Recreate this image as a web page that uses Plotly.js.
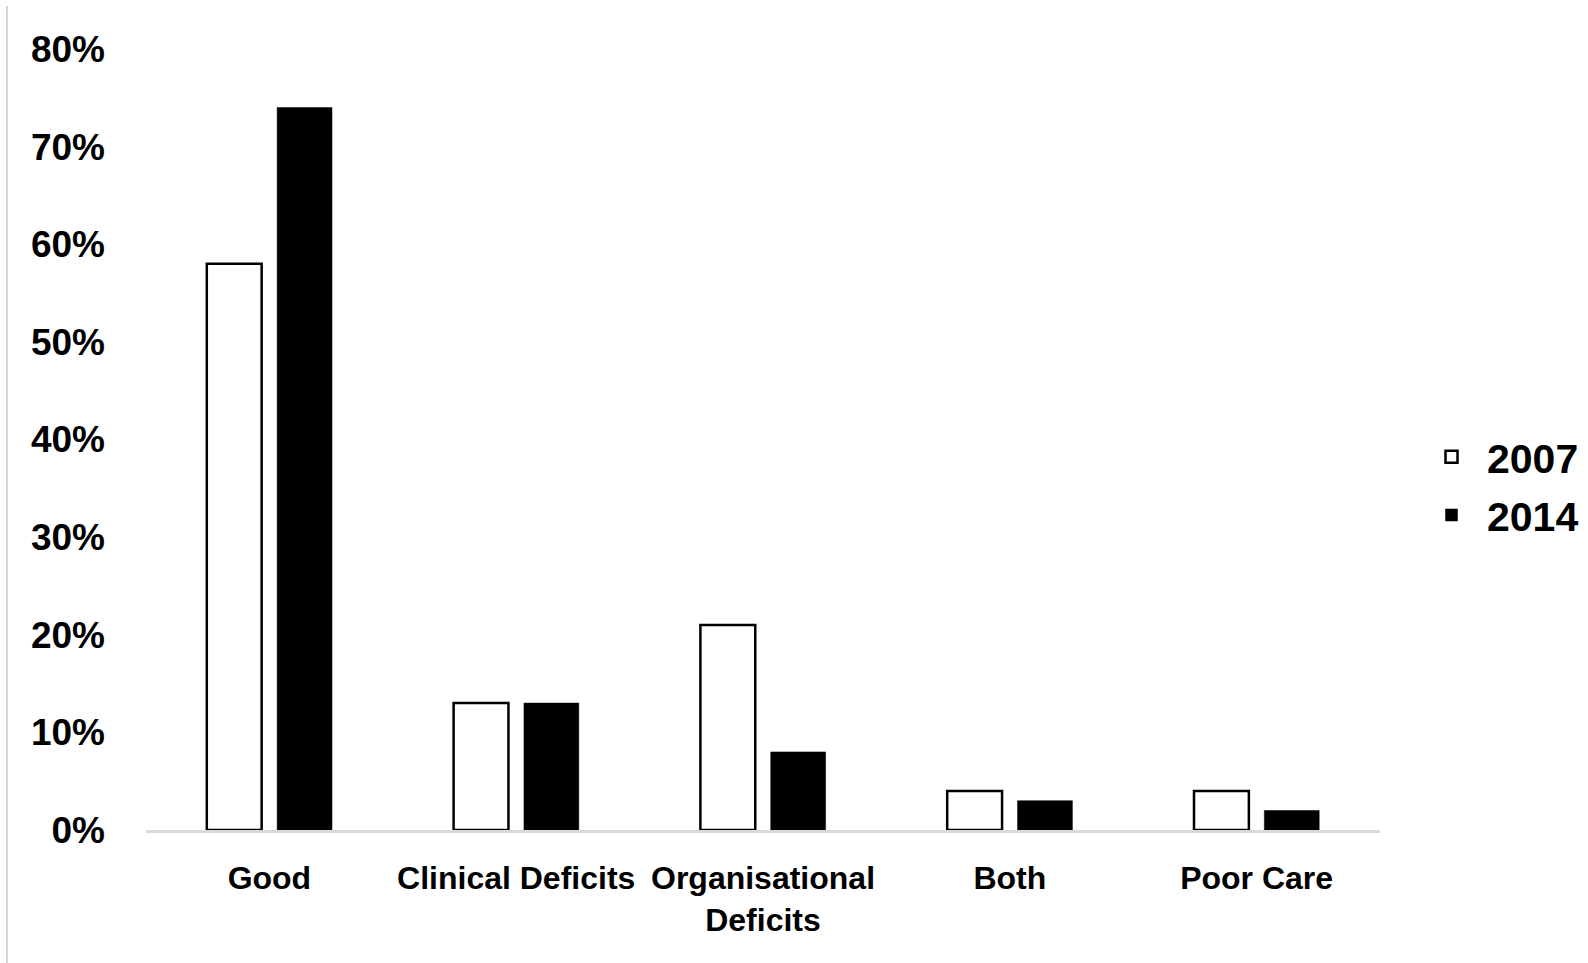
<!DOCTYPE html>
<html>
<head>
<meta charset="utf-8">
<script src="https://cdn.plot.ly/plotly-3.0.1.min.js"></script>
<style>html,body{margin:0;padding:0;background:#fff;}#chart{width:1588px;height:963px;}</style>
</head>
<body>
<div id="chart"></div>
<script>
const categories = ["Good", "Clinical Deficits", "Organisational<br>Deficits", "Both", "Poor Care"];
const series2007 = [0.58, 0.13, 0.21, 0.04, 0.04];
const series2014 = [0.74, 0.13, 0.08, 0.03, 0.02];
const seriesNames = ["2007", "2014"];
const yTickVals = [0, 0.1, 0.2, 0.3, 0.4, 0.5, 0.6, 0.7, 0.8];

const FONT = "Liberation Sans, Arial, sans-serif";

const traces = [
  {
    type: "bar", name: seriesNames[0], x: categories, y: series2007,
    marker: {color: "#ffffff", line: {color: "#000000", width: 2.5}},
    legendgroup: "a", hoverinfo: "skip"
  },
  {
    type: "bar", name: seriesNames[1], x: categories, y: series2014,
    marker: {color: "#000000", line: {color: "#000000", width: 0.5}},
    legendgroup: "b", hoverinfo: "skip"
  }
];

const W = 1588, H = 963;
const ml = 146, mr = 208, mt = 49, mb = 133;
const pw = W - ml - mr, ph = H - mt - mb;

const layout = {
  width: W, height: H,
  margin: {l: ml, r: mr, t: mt, b: mb, pad: 0},
  paper_bgcolor: "#ffffff", plot_bgcolor: "#ffffff",
  font: {family: FONT, color: "#000000"},
  barmode: "group", bargap: 0.43, bargroupgap: 0.22,
  showlegend: true,
  legend: {
    xref: "container", yref: "container",
    x: 1416 / W, xanchor: "left", y: (H - 486) / H, yanchor: "middle",
    font: {family: FONT, size: 41, color: "#000000", weight: "bold"},
    itemwidth: 61,
    traceorder: "grouped", tracegroupgap: 2, bgcolor: "rgba(0,0,0,0)"
  },
  xaxis: {
    type: "category", showgrid: false, zeroline: false,
    showline: true, linecolor: "#d9d9d9", linewidth: 2.5,
    ticks: "", ticklabelstandoff: 18,
    tickfont: {family: FONT, size: 32, color: "#000000", weight: "bold"}
  },
  yaxis: {
    range: [0, 0.8], tickvals: yTickVals, tickformat: ".0%",
    showgrid: false, zeroline: false, showline: false, ticks: "",
    ticklabelstandoff: 40,
    tickfont: {family: FONT, size: 37, color: "#000000", weight: "bold"}
  },
  shapes: [{
    type: "line", xref: "paper", yref: "paper",
    x0: (7 - ml) / pw, x1: (7 - ml) / pw,
    y0: (830 - 6) / ph, y1: (830 - 963) / ph,
    line: {color: "#c8c8c8", width: 1.5}
  }]
};

Plotly.newPlot("chart", traces, layout, {staticPlot: true, displayModeBar: false});
</script>
</body>
</html>
